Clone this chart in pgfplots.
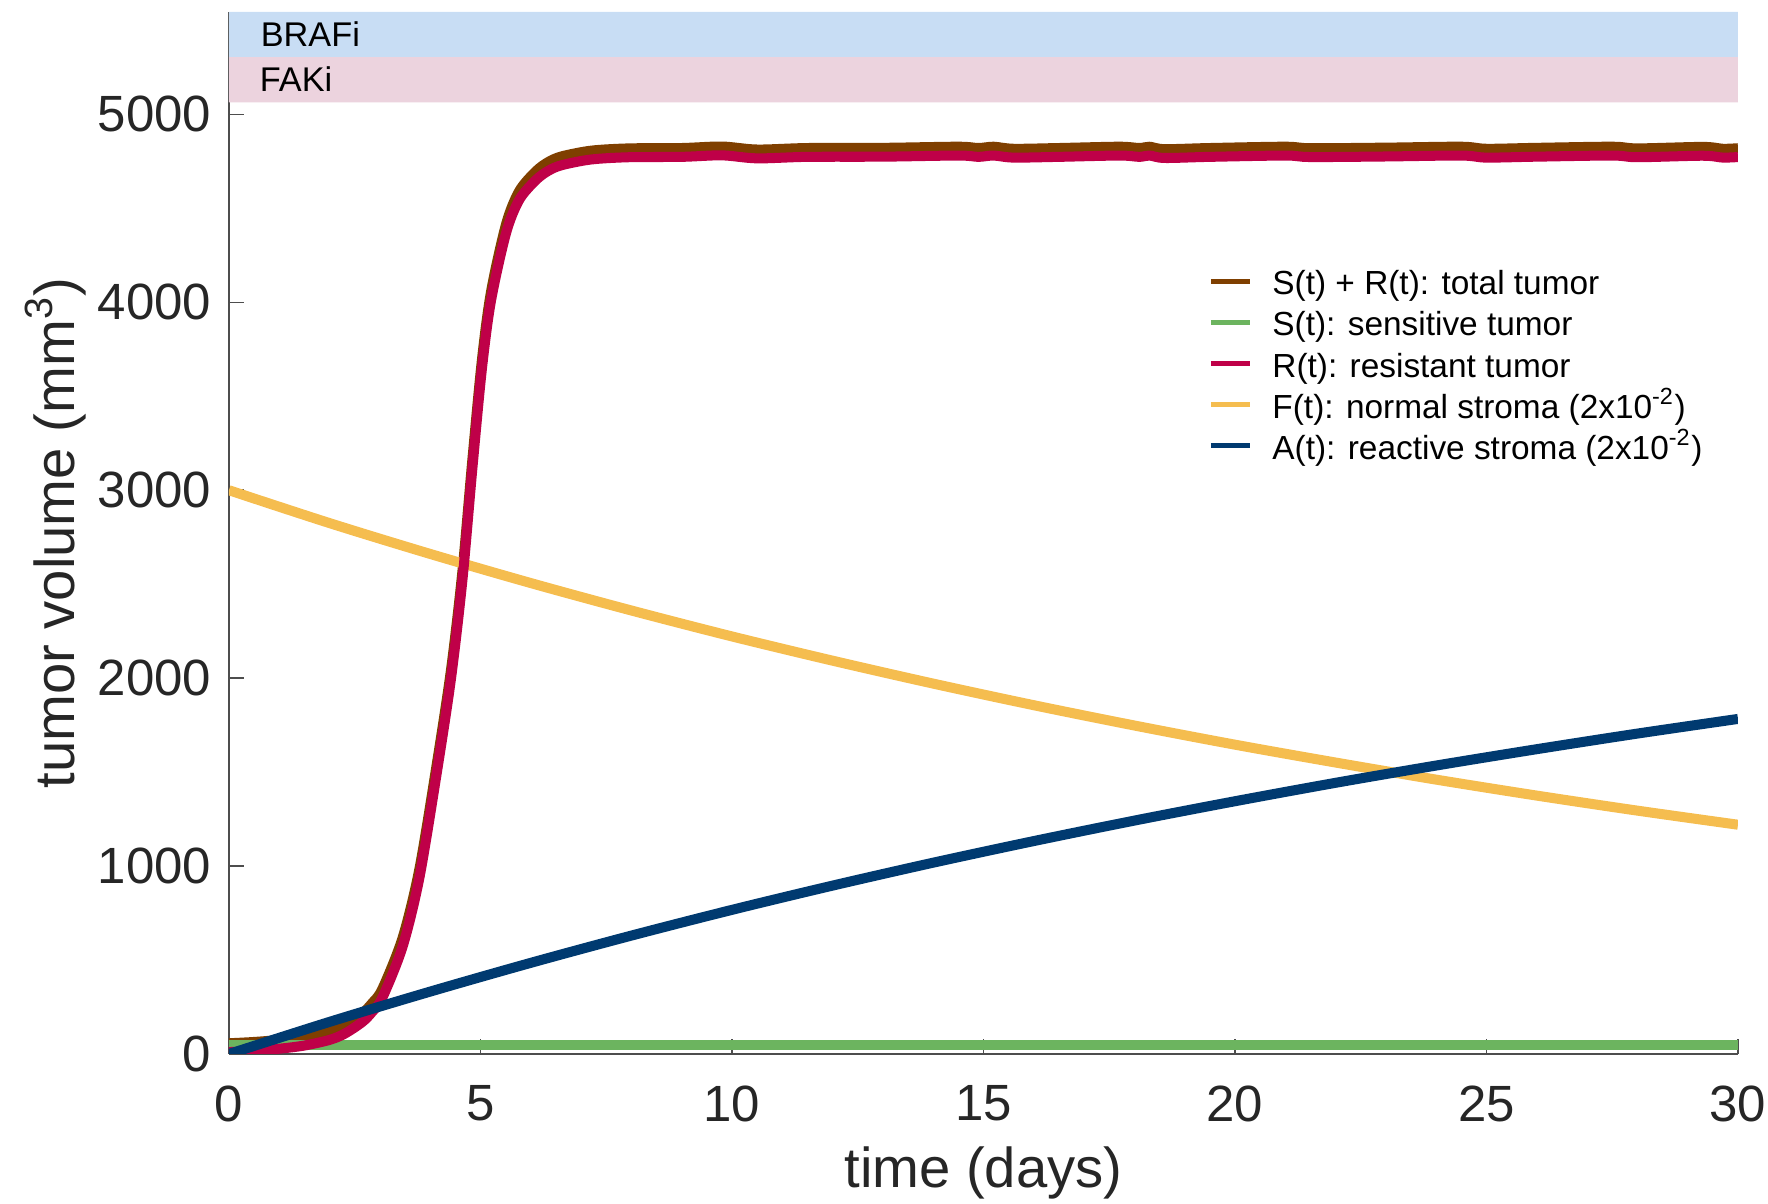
\documentclass[border=0pt]{standalone}
\usepackage{fontspec}
\setmainfont{Liberation Sans}
\usepackage{pgfplots}
\pgfplotsset{compat=1.18}
\definecolor{cTot}{HTML}{7F3F00}
\definecolor{cS}{HTML}{6CB45F}
\definecolor{cR}{HTML}{BF0048}
\definecolor{cF}{HTML}{F5BD4F}
\definecolor{cA}{HTML}{003A70}
\definecolor{bandB}{HTML}{C8DDF4}
\definecolor{bandF}{HTML}{ECD3DE}
\definecolor{axgray}{HTML}{4D4D4D}
\definecolor{txt}{HTML}{262626}
\begin{document}
\begin{tikzpicture}
\path[use as bounding box] (-2.29cm,-1.50cm) rectangle (15.39cm,10.54cm);
\begin{axis}[
  at={(0,0)}, anchor=south west,
  scale only axis, width=15.09cm, height=10.42cm,
  xmin=0, xmax=30, ymin=0, ymax=5545,
  axis x line*=bottom, axis y line*=left,
  axis line style={axgray, line width=0.45pt},
  xtick={0,5,...,30}, ytick={0,1000,...,5000},
  tick align=inside, major tick length=0.15cm,
  tick style={axgray, line width=0.45pt},
  /pgf/number format/assume math mode=true,
  /pgf/number format/set thousands separator={},
  tick label style={font=\fontsize{14.5}{16}\selectfont, text=txt},
  xticklabel style={inner sep=0pt, anchor=north, yshift=-0.31cm},
  yticklabel style={inner sep=0pt, anchor=east, xshift=-0.17cm},
  xlabel={time (days)}, ylabel={tumor volume (mm\textsuperscript{3})},
  label style={font=\fontsize{16}{18}\selectfont, text=txt},
  xlabel style={at={(axis description cs:0.5,-0.114)}, anchor=center},
  ylabel style={at={(axis description cs:-0.115,0.5)}, anchor=center},
  legend style={at={(axis cs:19.46,4178)}, anchor=north west, draw=none, fill=none,
    font=\fontsize{9.5}{11}\selectfont, inner sep=0pt, row sep=2.2pt, column sep=0.2cm,
    nodes={inner sep=0pt, text height=7.2pt, text depth=2.3pt}},
  legend cell align=left,
  legend image code/.code={\draw[#1, line width=1.4pt] (0cm,0.05cm) -- (0.39cm,0.05cm);},
  line join=round,
]
% treatment bands
\addplot[draw=none, fill=bandB, forget plot] coordinates {(0,5305) (30,5305) (30,5545) (0,5545) (0,5305)};
\addplot[draw=none, fill=bandF, forget plot] coordinates {(0,5064) (30,5064) (30,5305) (0,5305) (0,5064)};
\node[anchor=west, font=\fontsize{9.75}{11}\selectfont, inner sep=0pt] at (axis cs:0.62,5426) {BRAFi};
\node[anchor=west, font=\fontsize{9.75}{11}\selectfont, inner sep=0pt] at (axis cs:0.60,5186) {FAKi};

% S+R total
\addplot[cTot, line width=2.85pt, smooth, tension=0.5, forget plot] coordinates {
(0,57)(0.5,64)(1,75)(1.5,92)(2,122)(2.3,155)(2.65,217)(2.85,272)(3.05,347)(3.45,617)
(3.78,977)(4.11,1507)(4.41,2037)(4.64,2567)(4.84,3167)(5.03,3697)(5.21,4057)(5.51,4417)
(5.77,4592)(6.1,4697)(6.35,4747)(6.62,4777)(7.2,4807)(7.95,4819)(9,4821)(9.8,4829)
(10.5,4813)(11.5,4821)(13,4822)(14.5,4828)(14.9,4821)(15.2,4828)(15.6,4817)(16.5,4821)
(17.7,4828)(18.1,4821)(18.3,4828)(18.6,4815)(19.5,4821)(21,4828)(21.5,4820)(23,4823)
(24.5,4828)(25,4817)(26,4822)(27.5,4828)(28,4819)(29.3,4827)(29.7,4817)(30,4820)};
% S sensitive
\addplot[cS, line width=2.85pt, forget plot] coordinates {(0,48)(10,48)(20,48)(30,48)};
% F normal stroma
\addplot[cF, line width=2.85pt, smooth, forget plot] coordinates {
(0,3000)(2,2825)(4,2661)(6,2506)(8,2360)(10,2222)(12,2093)(14,1971)(16,1856)
(18,1748)(20,1646)(22,1551)(24,1460)(26,1375)(28,1295)(30,1220)};
% R resistant
\addplot[cR, line width=2.85pt, smooth, tension=0.5, forget plot] coordinates {
(0,10)(0.5,17)(1,28)(1.5,45)(2,75)(2.3,108)(2.65,170)(2.85,225)(3.05,300)(3.45,570)
(3.78,930)(4.11,1460)(4.41,1990)(4.64,2520)(4.84,3120)(5.03,3650)(5.21,4010)(5.51,4370)
(5.77,4545)(6.1,4650)(6.35,4700)(6.62,4730)(7.2,4760)(7.95,4772)(9,4774)(9.8,4782)
(10.5,4766)(11.5,4774)(13,4775)(14.5,4781)(14.9,4774)(15.2,4781)(15.6,4770)(16.5,4774)
(17.7,4781)(18.1,4774)(18.3,4781)(18.6,4768)(19.5,4774)(21,4781)(21.5,4773)(23,4776)
(24.5,4781)(25,4770)(26,4775)(27.5,4781)(28,4772)(29.3,4780)(29.7,4770)(30,4773)};
% A reactive stroma
\addplot[cA, line width=2.85pt, smooth, forget plot] coordinates {
(0,0)(2,171)(4,332)(6,485)(8,630)(10,767)(12,896)(14,1018)(16,1133)(18,1242)
(20,1345)(22,1443)(24,1535)(26,1622)(28,1705)(30,1783)};

\addlegendimage{cTot}\addlegendentry{S(t) + R(t): total tumor}
\addlegendimage{cS}\addlegendentry{S(t): sensitive tumor}
\addlegendimage{cR}\addlegendentry{R(t): resistant tumor}
\addlegendimage{cF}\addlegendentry{F(t): normal stroma (2x10\textsuperscript{-2})}
\addlegendimage{cA}\addlegendentry{A(t): reactive stroma (2x10\textsuperscript{-2})}
\end{axis}
\end{tikzpicture}
\end{document}
